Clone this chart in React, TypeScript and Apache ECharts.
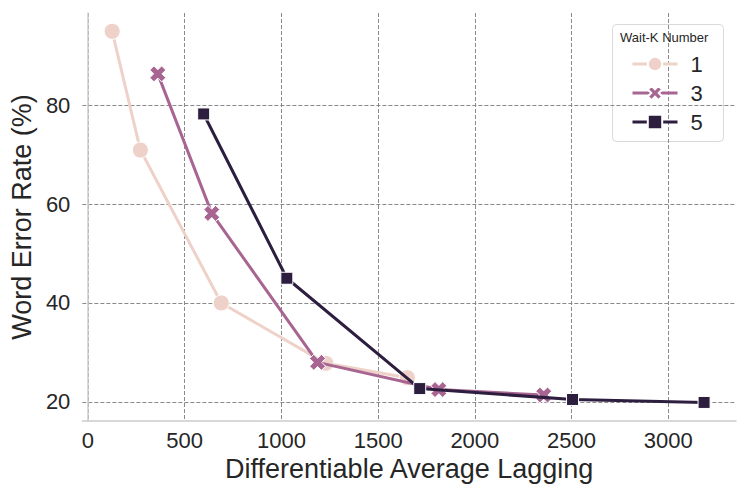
import React, { useEffect, useRef } from "react";
import * as echarts from "echarts";

const seriesNames = ["1", "3", "5"];
const wait1: [number, number][] = [[125, 94.9], [271, 70.9], [689, 40.0], [1230, 27.8], [1651, 24.9]];
const wait3: [number, number][] = [[361, 86.3], [640, 58.1], [1187, 28.0], [1814, 22.5], [2356, 21.4]];
const wait5: [number, number][] = [[598, 78.2], [1028, 45.0], [1715, 22.7], [2505, 20.5], [3185, 19.9]];
const colors = ["#eed1c8", "#a86591", "#2d1e3f"];
const xTitle = "Differentiable Average Lagging";
const yTitle = "Word Error Rate (%)";
const legendTitle = "Wait-K Number";

const FONT = "Liberation Sans, Arial, sans-serif";
const X_PATH = "path://M0,2.6 L2.6,0 L5,2.4 L7.4,0 L10,2.6 L7.6,5 L10,7.4 L7.4,10 L5,7.6 L2.6,10 L0,7.4 L2.4,5 Z";

export default function App() {
  const ref = useRef<HTMLDivElement>(null);
  useEffect(() => {
    if (!ref.current) return;
    const chart = echarts.init(ref.current, undefined, { renderer: "svg" });
    const symbols = ["circle", X_PATH, "rect"];
    const sizes = [16, 16, 12];
    const datas = [wait1, wait3, wait5];
    chart.setOption({
      animation: false,
      backgroundColor: "#ffffff",
      grid: { left: 81, right: 11, top: 13, bottom: 77 },
      xAxis: {
        type: "value",
        min: -29,
        max: 3350,
        splitNumber: 7,
        name: xTitle,
        nameLocation: "middle",
        nameGap: 32,
        nameTextStyle: { fontFamily: FONT, fontSize: 27, color: "#262626" },
        axisLine: { show: true, lineStyle: { color: "#cccccc", width: 1.5 } },
        axisTick: { show: false },
        axisLabel: {
          fontFamily: FONT, fontSize: 22, color: "#262626", margin: 8,
          showMinLabel: false, showMaxLabel: false,
          formatter: (v: number) => String(v),
        },
        splitLine: {
          show: true, showMinLine: false, showMaxLine: false,
          lineStyle: { color: "#8a8a8a", type: [4, 2], width: 1 },
        },
      },
      yAxis: {
        type: "value",
        min: 16.15,
        max: 98.6,
        splitNumber: 5,
        name: yTitle,
        nameLocation: "middle",
        nameGap: 40,
        nameTextStyle: { fontFamily: FONT, fontSize: 27, color: "#262626" },
        axisLine: { show: true, lineStyle: { color: "#cccccc", width: 1.5 } },
        axisTick: { show: false },
        axisLabel: {
          fontFamily: FONT, fontSize: 22, color: "#262626", margin: 12,
          showMinLabel: false, showMaxLabel: false,
          formatter: (v: number) => String(v),
        },
        splitLine: {
          show: true, showMinLine: false, showMaxLine: false,
          lineStyle: { color: "#8a8a8a", type: [4, 2], width: 1 },
        },
      },
      legend: {
        orient: "vertical",
        left: 631,
        top: 52,
        padding: 0,
        itemWidth: 45,
        itemHeight: 18,
        itemGap: 5,
        lineStyle: { width: 3 },
        textStyle: { fontFamily: FONT, fontSize: 22, color: "#262626", padding: [0, 0, 0, 8], lineHeight: 24 },
        data: seriesNames,
      },
      graphic: [
        {
          type: "rect",
          left: 612,
          top: 24,
          shape: { width: 111, height: 117, r: 4 },
          style: { fill: "rgba(255,255,255,0.8)", stroke: "#d9d9d9", lineWidth: 1 },
          z: 0,
        },
        {
          type: "text",
          left: 620,
          top: 31,
          style: { text: legendTitle, fontFamily: FONT, fontSize: 13, fill: "#262626" },
          z: 1,
        },
      ],
      series: seriesNames.map((name, i) => ({
        name,
        type: "line",
        data: datas[i],
        symbol: symbols[i],
        symbolSize: sizes[i],
        showAllSymbol: true,
        color: colors[i],
        lineStyle: { color: colors[i], width: 3 },
        itemStyle: { color: colors[i], borderColor: "#ffffff", borderWidth: 1 },
        z: 2 + i,
      })),
    });
    return () => chart.dispose();
  }, []);
  return <div ref={ref} style={{ position: "fixed", left: 0, top: 0, width: 747, height: 498 }} />;
}
